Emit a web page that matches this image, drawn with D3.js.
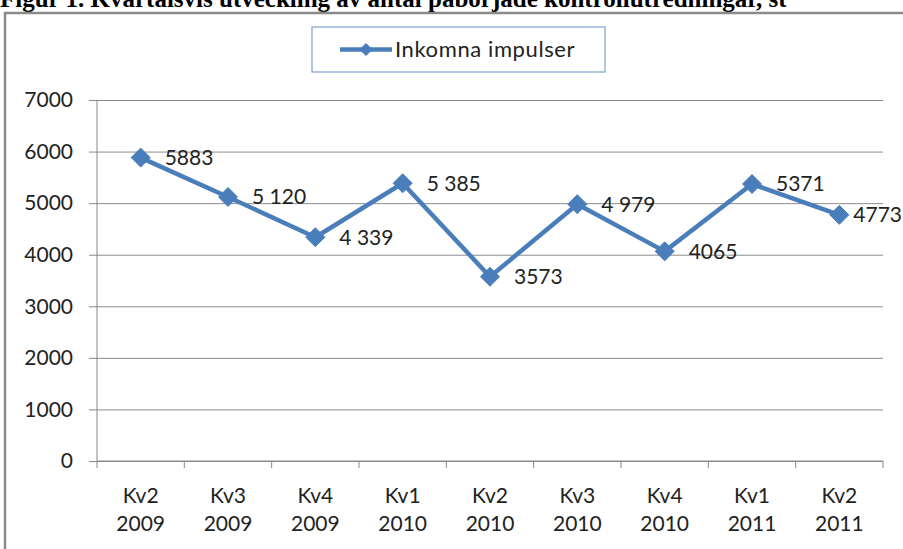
<!DOCTYPE html>
<html>
<head>
<meta charset="utf-8">
<script src="https://cdn.jsdelivr.net/npm/d3@7"></script>
<style>
  body { margin: 0; background: #fff; }
  svg { display: block; }
  .tick text { font-family: Lato, "Open Sans", sans-serif; font-size: 21px; fill: #222; }
  .axis path, .axis line { stroke: #888; }
  .grid line { stroke: #8c8c8c; }
</style>
</head>
<body>
<svg id="chart" width="903" height="549"></svg>
<script>
const quarters = ['Kv2', 'Kv3', 'Kv4', 'Kv1', 'Kv2', 'Kv3', 'Kv4', 'Kv1', 'Kv2'];
const years = ['2009', '2009', '2009', '2010', '2010', '2010', '2010', '2011', '2011'];
const impulser = [5883, 5120, 4339, 5385, 3573, 4979, 4065, 5371, 4773];
const labels = ['5883', '5 120', '4 339', '5 385', '3573', '4 979', '4065', '5371', '4773'];
const yTicks = [0, 1000, 2000, 3000, 4000, 5000, 6000, 7000];
const seriesName = 'Inkomna impulser';

const blue = '#4a7ebb';
const font = 'Lato, "Open Sans", sans-serif';
const svg = d3.select('#chart');

const margin = {top: 100, left: 97, right: 20, bottom: 88};
const width = 883 - margin.left;
const height = 461 - margin.top;

// title, clipped at the top like the scanned page
svg.append('text')
  .attr('x', 0)
  .attr('y', 7)
  .style('font-family', '"Liberation Serif", "Times New Roman", serif')
  .style('font-weight', 'bold')
  .style('font-size', '25px')
  .attr('fill', '#000')
  .text('Figur 1. Kvartalsvis utveckling av antal påbörjade kontrollutredningar, st');

// outer frame
svg.append('rect')
  .attr('x', 5)
  .attr('y', 13)
  .attr('width', 920)
  .attr('height', 560)
  .attr('fill', 'none')
  .attr('stroke', '#8a8a8a')
  .attr('stroke-width', 2.5);

const chart = svg.append('g')
  .attr('transform', `translate(${margin.left}, ${margin.top})`);

const x = d3.scaleBand()
  .domain(d3.range(impulser.length))
  .range([0, width]);

const y = d3.scaleLinear()
  .domain([0, 7000])
  .range([height, 0]);

// gridlines + y axis
const yAxis = d3.axisLeft(y)
  .tickValues(yTicks)
  .tickSize(8)
  .tickPadding(16)
  .tickFormat(d3.format('d'));

chart.append('g')
  .attr('class', 'grid')
  .call(d3.axisLeft(y).tickValues(yTicks).tickSize(-width).tickFormat(''))
  .call(g => g.select('.domain').remove());

chart.append('g')
  .attr('class', 'y axis')
  .call(yAxis)
  .call(g => g.select('.domain').attr('d', `M0,0V${height}`));

// x axis with ticks on the category boundaries
const xAxisG = chart.append('g')
  .attr('class', 'x axis')
  .attr('transform', `translate(0, ${height})`);

xAxisG.append('path')
  .attr('d', `M0,0H${width}`)
  .attr('stroke', '#888');

xAxisG.selectAll('.bound')
  .data(d3.range(impulser.length + 1))
  .enter().append('line')
  .attr('class', 'bound')
  .attr('x1', i => i * x.step())
  .attr('x2', i => i * x.step())
  .attr('y1', 0)
  .attr('y2', 7)
  .attr('stroke', '#888');

const catLabel = xAxisG.selectAll('.cat')
  .data(d3.range(impulser.length))
  .enter().append('text')
  .attr('class', 'cat')
  .attr('text-anchor', 'middle')
  .style('font-family', font)
  .style('font-size', '21px')
  .attr('fill', '#222');

catLabel.append('tspan')
  .attr('x', i => x(i) + x.bandwidth() / 2)
  .attr('y', 42)
  .text(i => quarters[i]);

catLabel.append('tspan')
  .attr('x', i => x(i) + x.bandwidth() / 2)
  .attr('y', 70)
  .text(i => years[i]);

// line
const cx = i => x(i) + x.bandwidth() / 2;

const line = d3.line()
  .x((d, i) => cx(i))
  .y(d => y(d));

chart.append('path')
  .datum(impulser)
  .attr('fill', 'none')
  .attr('stroke', blue)
  .attr('stroke-width', 4.5)
  .attr('stroke-linejoin', 'round')
  .attr('d', line);

const diamond = d3.symbol().type(d3.symbolDiamond2).size(230);

chart.selectAll('.marker')
  .data(impulser)
  .enter().append('path')
  .attr('class', 'marker')
  .attr('d', diamond)
  .attr('fill', blue)
  .attr('stroke', blue)
  .attr('stroke-width', 1)
  .attr('transform', (d, i) => `translate(${cx(i)}, ${y(d)})`);

// data labels to the right, kept inside the page
const values = chart.selectAll('.value')
  .data(impulser)
  .enter().append('text')
  .attr('class', 'value')
  .attr('y', d => y(d))
  .attr('dy', '0.35em')
  .style('font-family', font)
  .style('font-size', '21px')
  .attr('fill', '#222')
  .text((d, i) => labels[i]);

values.attr('x', function(d, i) {
  const w = this.getComputedTextLength();
  return Math.min(cx(i) + 24, 903 - margin.left - w - 1);
});

// legend
const legend = svg.append('g')
  .attr('transform', 'translate(312, 27)');

legend.append('rect')
  .attr('width', 293)
  .attr('height', 45)
  .attr('fill', '#fff')
  .attr('stroke', '#7f9fcf')
  .attr('stroke-width', 1.2);

legend.append('line')
  .attr('x1', 28)
  .attr('x2', 80)
  .attr('y1', 22.5)
  .attr('y2', 22.5)
  .attr('stroke', blue)
  .attr('stroke-width', 4.5);

legend.append('path')
  .attr('d', d3.symbol().type(d3.symbolDiamond2).size(110))
  .attr('fill', blue)
  .attr('transform', 'translate(54, 22.5)');

legend.append('text')
  .attr('x', 83)
  .attr('y', 22.5)
  .attr('dy', '0.35em')
  .style('font-family', font)
  .style('font-size', '22px')
  .style('letter-spacing', '0.6px')
  .attr('fill', '#222')
  .text(seriesName);
</script>
</body>
</html>
